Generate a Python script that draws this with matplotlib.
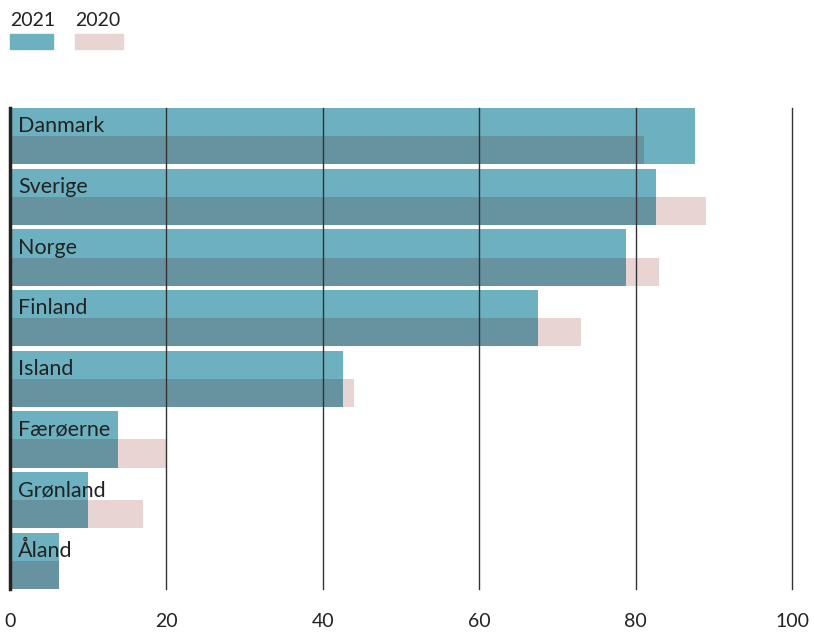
import matplotlib.pyplot as plt
from matplotlib.patches import Rectangle

countries = ['Danmark', 'Sverige', 'Norge', 'Finland', 'Island', 'Færøerne', 'Grønland', 'Åland']
v2021 = [87.6, 82.6, 78.8, 67.5, 42.6, 13.8, 10.0, 6.3]
v2020 = [81.1, 89.0, 83.0, 73.0, 44.0, 19.9, 17.0, 6.3]
xticks = [0, 20, 40, 60, 80, 100]

teal = '#6db1c0'
pink = '#e9d4d4'
dark = '#66939f'

plt.rcParams['font.family'] = ['Lato', 'DejaVu Sans']

fig = plt.figure(figsize=(8.14, 6.32), dpi=100)
ax = fig.add_axes([10 / 814, 1 - 589 / 632, 782 / 814, 481 / 632])

h = 0.93
y = list(range(len(countries)))
# 2020 in lower half, 2021 full height, overlap darker
ax.barh([i + h / 4 for i in y], v2020, height=h / 2, color=pink, zorder=1)
ax.barh(y, v2021, height=h, color=teal, zorder=2)
ax.barh([i + h / 4 for i in y], [min(a, b) for a, b in zip(v2021, v2020)],
        height=h / 2, color=dark, zorder=3)

for i, c in enumerate(countries):
    ax.text(1.0, i - h / 4 + 0.07, c, va='center', ha='left', fontsize=15.5,
            color='#222222', zorder=5)

for t in xticks[1:]:
    ax.axvline(t, color='#333333', lw=1, zorder=4, clip_on=False)
ax.axvline(0, color='#222222', lw=2.5, zorder=4, clip_on=False)

ax.set_xlim(0, 100)
ax.set_ylim(len(countries) - 1 + h / 2, -h / 2)
ax.set_xticks(xticks)
ax.set_xticklabels([str(t) for t in xticks], fontsize=14, color='#222222')
ax.tick_params(axis='x', length=0, pad=17)
ax.set_yticks([])
for s in ax.spines.values():
    s.set_visible(False)

# legend
fig.text(10 / 814, 1 - 20 / 632, '2021', fontsize=14, va='center', ha='left', color='#222222')
fig.text(75 / 814, 1 - 20 / 632, '2020', fontsize=14, va='center', ha='left', color='#222222')
fig.patches.append(Rectangle((10 / 814, 1 - 49 / 632), 43 / 814, 15 / 632,
                             transform=fig.transFigure, color=teal))
fig.patches.append(Rectangle((75 / 814, 1 - 49 / 632), 48 / 814, 15 / 632,
                             transform=fig.transFigure, color=pink))

fig.savefig('out.png', dpi=100)
